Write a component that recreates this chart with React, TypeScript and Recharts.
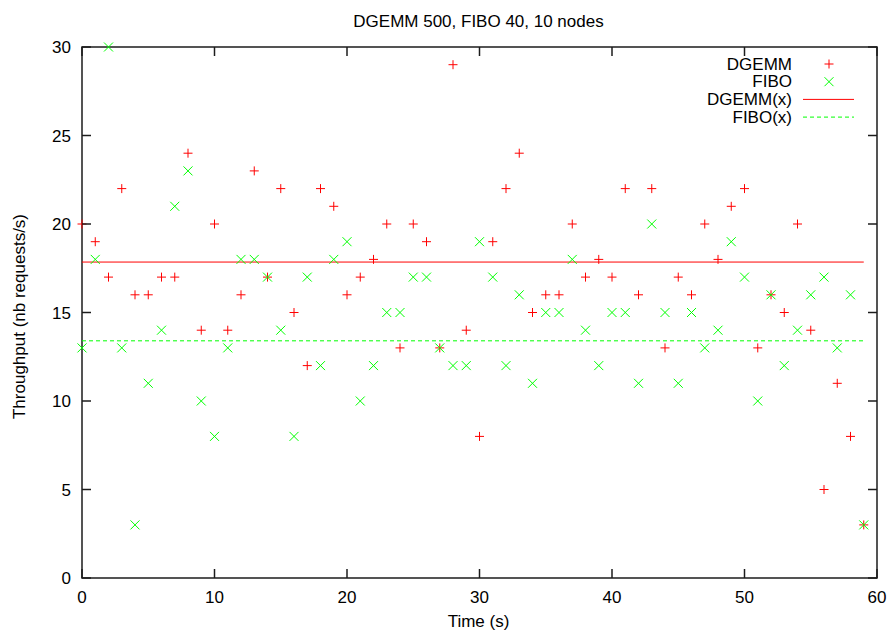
import React from "react";
import {
  ScatterChart,
  Scatter,
  XAxis,
  YAxis,
  ReferenceLine,
  ReferenceArea,
} from "recharts";

const TIMES = [
  0, 1, 2, 3, 4, 5, 6, 7, 8, 9, 10, 11, 12, 13, 14, 15, 16, 17, 18, 19, 20, 21,
  22, 23, 24, 25, 26, 27, 28, 29, 30, 31, 32, 33, 34, 35, 36, 37, 38, 39, 40,
  41, 42, 43, 44, 45, 46, 47, 48, 49, 50, 51, 52, 53, 54, 55, 56, 57, 58, 59,
];

const DGEMM = [
  20, 19, 17, 22, 16, 16, 17, 17, 24, 14, 20, 14, 16, 23, 17, 22, 15, 12, 22,
  21, 16, 17, 18, 20, 13, 20, 19, 13, 29, 14, 8, 19, 22, 24, 15, 16, 16, 20, 17,
  18, 17, 22, 16, 22, 13, 17, 16, 20, 18, 21, 22, 13, 16, 15, 20, 14, 5, 11, 8,
  3,
];

const FIBO = [
  13, 18, 30, 13, 3, 11, 14, 21, 23, 10, 8, 13, 18, 18, 17, 14, 8, 17, 12, 18,
  19, 10, 12, 15, 15, 17, 17, 13, 12, 12, 19, 17, 12, 16, 11, 15, 15, 18, 14, 12,
  15, 15, 11, 20, 15, 11, 15, 13, 14, 19, 17, 10, 16, 12, 14, 16, 17, 13, 16, 3,
];

// fitted constants f(x) = a
const DGEMM_FIT = 17.85;
const FIBO_FIT = 13.4;

const X_DOMAIN = [0, 60];
const Y_DOMAIN = [0, 30];
const X_TICKS = [0, 10, 20, 30, 40, 50, 60];
const Y_TICKS = [0, 5, 10, 15, 20, 25, 30];

const TITLE = "DGEMM 500, FIBO 40, 10 nodes";
const X_LABEL = "Time (s)";
const Y_LABEL = "Throughput (nb requests/s)";

const RED = "#ff0000";
const GREEN = "#00ff00";
const INK = "#000000";
const BORDER = "#1c1c1c";
const FONT = "'Liberation Sans', Arial, Helvetica, sans-serif";
const FS = 17;
const TICK = 9;
const LW = 1.5;

const dgemmData = TIMES.map((t, i) => ({ t, v: DGEMM[i] }));
const fiboData = TIMES.map((t, i) => ({ t, v: FIBO[i] }));

const PlusShape = (props: any) => {
  const { cx, cy } = props;
  const s = 4.5;
  return (
    <g stroke={RED} strokeWidth={1}>
      <line x1={cx - s} y1={cy} x2={cx + s} y2={cy} />
      <line x1={cx} y1={cy - s} x2={cx} y2={cy + s} />
    </g>
  );
};

const CrossShape = (props: any) => {
  const { cx, cy } = props;
  const s = 4.5;
  return (
    <g stroke={GREEN} strokeWidth={1}>
      <line x1={cx - s} y1={cy - s} x2={cx + s} y2={cy + s} />
      <line x1={cx - s} y1={cy + s} x2={cx + s} y2={cy - s} />
    </g>
  );
};

// gnuplot style ticks: short marks pointing into the plot
const BottomTick = (props: any) => {
  const { x, y, payload } = props;
  const axisY = y - 13;
  return (
    <g>
      <line x1={x} x2={x} y1={axisY} y2={axisY - TICK} stroke={BORDER} strokeWidth={LW} />
      <text x={x} y={y + 12} textAnchor="middle" fontFamily={FONT} fontSize={FS} fill={INK}>
        {payload.value}
      </text>
    </g>
  );
};

const LeftTick = (props: any) => {
  const { x, y, payload } = props;
  const axisX = x + 11;
  return (
    <g>
      <line x1={axisX} x2={axisX + TICK} y1={y} y2={y} stroke={BORDER} strokeWidth={LW} />
      <text x={x} y={y + 6} textAnchor="end" fontFamily={FONT} fontSize={FS} fill={INK}>
        {payload.value}
      </text>
    </g>
  );
};

const TopTick = (props: any) => {
  const { x, y } = props;
  return <line x1={x} x2={x} y1={y} y2={y + TICK} stroke={BORDER} strokeWidth={LW} />;
};

const RightTick = (props: any) => {
  const { x, y } = props;
  return <line x1={x} x2={x - TICK} y1={y} y2={y} stroke={BORDER} strokeWidth={LW} />;
};

const LegendBox = () => {
  const rows = [
    { name: "DGEMM", kind: "plus" },
    { name: "FIBO", kind: "cross" },
    { name: "DGEMM(x)", kind: "solid" },
    { name: "FIBO(x)", kind: "dashed" },
  ];
  return (
    <svg width={180} height={80} style={{ display: "block" }}>
      {rows.map((r, i) => {
        const y = 10 + i * 17.7;
        return (
          <g key={r.name}>
            <text
              x={102}
              y={y}
              textAnchor="end"
              dominantBaseline="central"
              fontFamily={FONT}
              fontSize={FS}
              fill={INK}
            >
              {r.name}
            </text>
            {r.kind === "plus" && <PlusShape cx={139} cy={y} />}
            {r.kind === "cross" && <CrossShape cx={139} cy={y} />}
            {r.kind === "solid" && (
              <line x1={113} x2={164} y1={y} y2={y} stroke={RED} strokeWidth={1} />
            )}
            {r.kind === "dashed" && (
              <line
                x1={113}
                x2={164}
                y1={y}
                y2={y}
                stroke={GREEN}
                strokeWidth={1}
                strokeDasharray="4 3"
              />
            )}
          </g>
        );
      })}
    </svg>
  );
};

export default function App() {
  return (
    <div
      style={{
        position: "absolute",
        left: 0,
        top: 0,
        width: 891,
        height: 634,
        background: "#fff",
      }}
    >
      <ScatterChart
        width={891}
        height={634}
        margin={{ top: 46, right: 13, bottom: 0, left: 0 }}
      >
        <XAxis
          xAxisId="bottom"
          dataKey="t"
          type="number"
          domain={X_DOMAIN}
          ticks={X_TICKS}
          height={56}
          tickSize={0}
          tickMargin={13}
          tick={BottomTick}
          axisLine={false}
          tickLine={false}
          label={{
            content: (p: any) => {
              const vb = p.viewBox;
              return (
                <text
                  x={vb.x + vb.width / 2 - 1}
                  y={vb.y + 49}
                  textAnchor="middle"
                  fontFamily={FONT}
                  fontSize={FS}
                  fill={INK}
                >
                  {X_LABEL}
                </text>
              );
            },
          }}
        />
        <XAxis
          xAxisId="top"
          orientation="top"
          dataKey="t"
          type="number"
          domain={X_DOMAIN}
          ticks={X_TICKS}
          height={1}
          tickSize={0}
          tickMargin={0}
          tick={TopTick}
          axisLine={false}
          tickLine={false}
          label={{
            content: (p: any) => {
              const vb = p.viewBox;
              return (
                <text
                  x={vb.x + vb.width / 2 - 1}
                  y={27}
                  textAnchor="middle"
                  fontFamily={FONT}
                  fontSize={FS}
                  fill={INK}
                >
                  {TITLE}
                </text>
              );
            },
          }}
        />
        <YAxis
          yAxisId="left"
          dataKey="v"
          type="number"
          domain={Y_DOMAIN}
          ticks={Y_TICKS}
          width={82}
          tickSize={0}
          tickMargin={11}
          tick={LeftTick}
          axisLine={false}
          tickLine={false}
          label={{
            content: (p: any) => {
              const vb = p.viewBox;
              const x = vb.x + 19;
              const y = vb.y + vb.height / 2 + 4;
              return (
                <text
                  x={x}
                  y={y}
                  transform={`rotate(-90 ${x} ${y})`}
                  textAnchor="middle"
                  dominantBaseline="central"
                  fontFamily={FONT}
                  fontSize={FS}
                  fill={INK}
                >
                  {Y_LABEL}
                </text>
              );
            },
          }}
        />
        <YAxis
          yAxisId="right"
          orientation="right"
          dataKey="v"
          type="number"
          domain={Y_DOMAIN}
          ticks={Y_TICKS}
          width={1}
          tickSize={0}
          tickMargin={0}
          tick={RightTick}
          axisLine={false}
          tickLine={false}
        />
        {/* plot border */}
        <ReferenceArea
          xAxisId="bottom"
          yAxisId="left"
          x1={X_DOMAIN[0]}
          x2={X_DOMAIN[1]}
          y1={Y_DOMAIN[0]}
          y2={Y_DOMAIN[1]}
          fill="#ffffff"
          fillOpacity={0}
          stroke={BORDER}
          strokeWidth={LW}
          strokeOpacity={1}
        />
        <ReferenceLine
          xAxisId="bottom"
          yAxisId="left"
          segment={[
            { x: TIMES[0], y: DGEMM_FIT },
            { x: TIMES[TIMES.length - 1], y: DGEMM_FIT },
          ]}
          stroke={RED}
          strokeWidth={1}
        />
        <ReferenceLine
          xAxisId="bottom"
          yAxisId="left"
          segment={[
            { x: TIMES[0], y: FIBO_FIT },
            { x: TIMES[TIMES.length - 1], y: FIBO_FIT },
          ]}
          stroke={GREEN}
          strokeWidth={1}
          strokeDasharray="4 3"
        />
        <Scatter
          name="DGEMM"
          data={dgemmData}
          xAxisId="bottom"
          yAxisId="left"
          shape={PlusShape}
          isAnimationActive={false}
        />
        <Scatter
          name="FIBO"
          data={fiboData}
          xAxisId="bottom"
          yAxisId="left"
          shape={CrossShape}
          isAnimationActive={false}
        />
        {/* invisible series bound to the mirror axes so they render */}
        <Scatter
          data={fiboData}
          xAxisId="top"
          yAxisId="right"
          shape={() => <g />}
          legendType="none"
          isAnimationActive={false}
        />
      </ScatterChart>
      <div style={{ position: "absolute", left: 690, top: 54 }}>
        <LegendBox />
      </div>
    </div>
  );
}
